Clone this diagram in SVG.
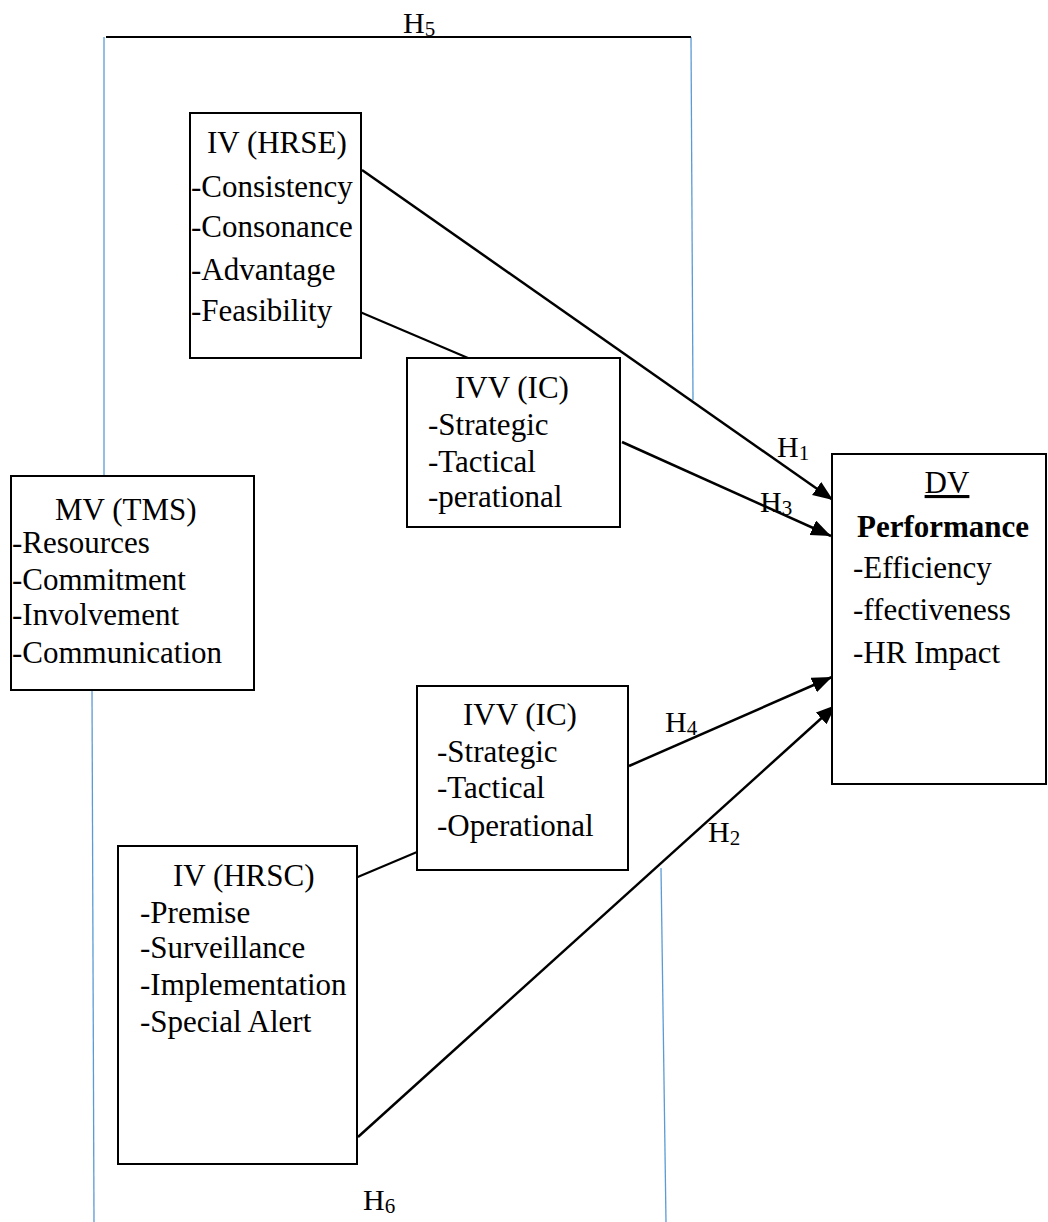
<svg xmlns="http://www.w3.org/2000/svg" width="1048" height="1222" viewBox="0 0 1048 1222">
<style>
text{font-family:"Liberation Serif","Times New Roman",serif;fill:#000;}
.t{font-size:31px;}
.h{font-size:30px;}
.s{font-size:21px;}
.box{fill:#fff;stroke:#000;stroke-width:2;}
.blue{stroke:#5B9BD5;stroke-width:1.3;fill:none;}
.ln{stroke:#000;stroke-width:2;fill:none;}
.ar{stroke:#000;stroke-width:2.5;fill:none;marker-end:url(#ah);}
</style>
<defs>
<marker id="ah" markerUnits="userSpaceOnUse" markerWidth="24" markerHeight="18" refX="20" refY="8" orient="auto">
<path d="M0,0 L20,8 L0,16 Z" fill="#000"/>
</marker>
</defs>
<g id="connectors">
<line class="blue" x1="104" y1="37" x2="104" y2="476"/>
<line class="blue" x1="691" y1="37" x2="693" y2="400"/>
<line class="blue" x1="92" y1="690" x2="94" y2="1222"/>
<line class="blue" x1="661" y1="868" x2="666" y2="1222"/>
<line class="ln" x1="106" y1="37" x2="691" y2="37"/>
<line class="ln" x1="360" y1="312" x2="468" y2="358"/>
<line class="ln" x1="353" y1="879" x2="417" y2="852"/>
<line class="ar" x1="362" y1="170" x2="833" y2="500"/>
<line class="ar" x1="622" y1="442" x2="831" y2="536"/>
<line class="ar" x1="629" y1="766" x2="832" y2="677"/>
<line class="ar" x1="358" y1="1137" x2="836" y2="705"/>
</g>
<g id="labels">
<text class="h" x="403" y="33">H<tspan class="s" dy="3">5</tspan></text>
<text class="h" x="777" y="457">H<tspan class="s" dy="3">1</tspan></text>
<text class="h" x="760" y="512">H<tspan class="s" dy="3">3</tspan></text>
<text class="h" x="665" y="732">H<tspan class="s" dy="3">4</tspan></text>
<text class="h" x="708" y="842">H<tspan class="s" dy="3">2</tspan></text>
<text class="h" x="363" y="1210">H<tspan class="s" dy="3">6</tspan></text>
</g>
<g id="hrse">
<rect class="box" x="190" y="113" width="171" height="245"/>
<text class="t" x="207" y="153">IV (HRSE)</text>
<text class="t" x="191" y="197">-Consistency</text>
<text class="t" x="191" y="237">-Consonance</text>
<text class="t" x="191" y="280">-Advantage</text>
<text class="t" x="191" y="321">-Feasibility</text>
</g>
<g id="ic-upper">
<rect class="box" x="407" y="358" width="213" height="169"/>
<text class="t" x="455" y="398">IVV (IC)</text>
<text class="t" x="428" y="435">-Strategic</text>
<text class="t" x="428" y="472">-Tactical</text>
<text class="t" x="428" y="507">-perational</text>
</g>
<g id="tms">
<rect class="box" x="11" y="476" width="243" height="214"/>
<text class="t" x="55" y="520">MV (TMS)</text>
<text class="t" x="12" y="553">-Resources</text>
<text class="t" x="12" y="590">-Commitment</text>
<text class="t" x="12" y="625">-Involvement</text>
<text class="t" x="12" y="663">-Communication</text>
</g>
<g id="dv">
<rect class="box" x="832" y="454" width="214" height="330"/>
<text class="t" x="947" y="493" text-anchor="middle" text-decoration="underline">DV</text>
<text class="t" x="857" y="537" font-weight="bold">Performance</text>
<text class="t" x="853" y="578">-Efficiency</text>
<text class="t" x="853" y="620">-ffectiveness</text>
<text class="t" x="853" y="663">-HR Impact</text>
</g>
<g id="ic-lower">
<rect class="box" x="417" y="686" width="211" height="184"/>
<text class="t" x="463" y="725">IVV (IC)</text>
<text class="t" x="437" y="762">-Strategic</text>
<text class="t" x="437" y="798">-Tactical</text>
<text class="t" x="437" y="836">-Operational</text>
</g>
<g id="hrsc">
<rect class="box" x="118" y="846" width="239" height="318"/>
<text class="t" x="173" y="886">IV (HRSC)</text>
<text class="t" x="140" y="923">-Premise</text>
<text class="t" x="140" y="958">-Surveillance</text>
<text class="t" x="140" y="995">-Implementation</text>
<text class="t" x="140" y="1032">-Special Alert</text>
</g>
</svg>
